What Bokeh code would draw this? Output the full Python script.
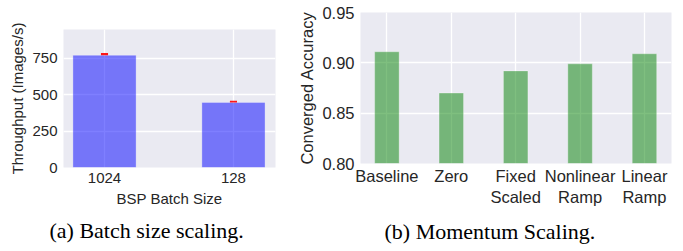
from bokeh.plotting import figure
from bokeh.models import Range1d, FixedTicker, PrintfTickFormatter, Title, ColumnDataSource
from bokeh.layouts import row, column
from bokeh.embed import file_html
from bokeh.resources import INLINE

# ---- data ----
batch_sizes = ["1024", "128"]
throughput = [771, 447]
throughput_err = [16, 12]
throughput_ticks = [0, 250, 500, 750]

momentum_methods = ["Baseline", "Zero", "Fixed\nScaled", "Nonlinear\nRamp", "Linear\nRamp"]
accuracy = [0.911, 0.870, 0.892, 0.899, 0.909]
accuracy_ticks = [0.80, 0.85, 0.90, 0.95]

BG = "#EAEAF2"
TXT = "#262626"
SANS = "Liberation Sans"
SERIF = "Liberation Serif"


def style(p, fs):
    p.background_fill_color = BG
    p.border_fill_color = "white"
    p.outline_line_color = None
    for ax in (p.xaxis, p.yaxis):
        ax.axis_line_color = None
        ax.major_tick_line_color = None
        ax.minor_tick_line_color = None
        ax.major_tick_out = 0
        ax.major_tick_in = 0
        ax.major_label_text_font = SANS
        ax.major_label_text_font_size = fs
        ax.major_label_text_color = TXT
        ax.axis_label_text_font = SANS
        ax.axis_label_text_font_size = fs
        ax.axis_label_text_color = TXT
        ax.axis_label_text_font_style = "normal"
    p.grid.grid_line_color = "white"
    p.grid.grid_line_width = 1.3


# ---- (a) throughput ----
xa = list(range(len(batch_sizes)))
src_a = ColumnDataSource(dict(x=xa, top=throughput,
                              etop=[t + e for t, e in zip(throughput, throughput_err)]))
p1 = figure(output_backend="svg", toolbar_location=None, title=None,
            frame_width=212, frame_height=138,
            x_range=Range1d(-0.318, 1.326), y_range=Range1d(0, 948),
            min_border_left=63, min_border_right=20,
            min_border_top=29, min_border_bottom=81)
style(p1, "15px")
p1.vbar(x="x", top="top", bottom=0, width=0.49, source=src_a,
        fill_color="blue", fill_alpha=0.5, line_color="white", line_alpha=0.3)
p1.vbar(x="x", top="etop", bottom="top", width=0.055, source=src_a,
        fill_color="red", line_color=None, fill_alpha=0.9)
p1.xaxis.ticker = FixedTicker(ticks=xa)
p1.xgrid.ticker = FixedTicker(ticks=xa)
p1.xaxis.major_label_overrides = {i: s for i, s in zip(xa, batch_sizes)}
p1.yaxis.ticker = FixedTicker(ticks=throughput_ticks)
p1.ygrid.ticker = FixedTicker(ticks=throughput_ticks)
p1.xaxis.axis_label = "BSP Batch Size"
p1.yaxis.axis_label = "Throughput (Images/s)"
p1.xaxis.major_label_standoff = 5
p1.yaxis.major_label_standoff = 6
p1.xaxis.axis_label_standoff = 4
p1.yaxis.axis_label_standoff = 3
p1.add_layout(Title(text="(a) Batch size scaling.", align="left", offset=-14,
                    standoff=12, text_font=SERIF, text_font_size="22px",
                    text_font_style="normal", text_color="black"), "below")

# ---- (b) momentum ----
xb = list(range(len(momentum_methods)))
src_b = ColumnDataSource(dict(x=xb, top=accuracy))
p2 = figure(output_backend="svg", toolbar_location=None, title=None,
            frame_width=311, frame_height=151,
            x_range=Range1d(-0.41, 4.42), y_range=Range1d(0.80, 0.95),
            min_border_left=64, min_border_right=8,
            min_border_top=12, min_border_bottom=85)
style(p2, "16.5px")
p2.vbar(x="x", top="top", bottom=0.80, width=0.38, source=src_b,
        fill_color="green", fill_alpha=0.5, line_color="white", line_alpha=0.3)
p2.xaxis.ticker = FixedTicker(ticks=xb)
p2.xgrid.ticker = FixedTicker(ticks=xb)
p2.xaxis.major_label_overrides = {i: s for i, s in zip(xb, momentum_methods)}
p2.yaxis.ticker = FixedTicker(ticks=accuracy_ticks)
p2.ygrid.ticker = FixedTicker(ticks=accuracy_ticks)
p2.yaxis.formatter = PrintfTickFormatter(format="%.2f")
p2.yaxis.axis_label = "Converged Accuracy"
p2.xaxis.major_label_standoff = 3
p2.yaxis.major_label_standoff = 6
p2.yaxis.axis_label_standoff = 3
p2.add_layout(Title(text="(b) Momentum Scaling.", align="left", offset=24,
                    standoff=15, text_font=SERIF, text_font_size="22px",
                    text_font_style="normal", text_color="black"), "below")

layout = row(column(p1), column(p2))
open("out.html", "w").write(file_html(layout, INLINE))
